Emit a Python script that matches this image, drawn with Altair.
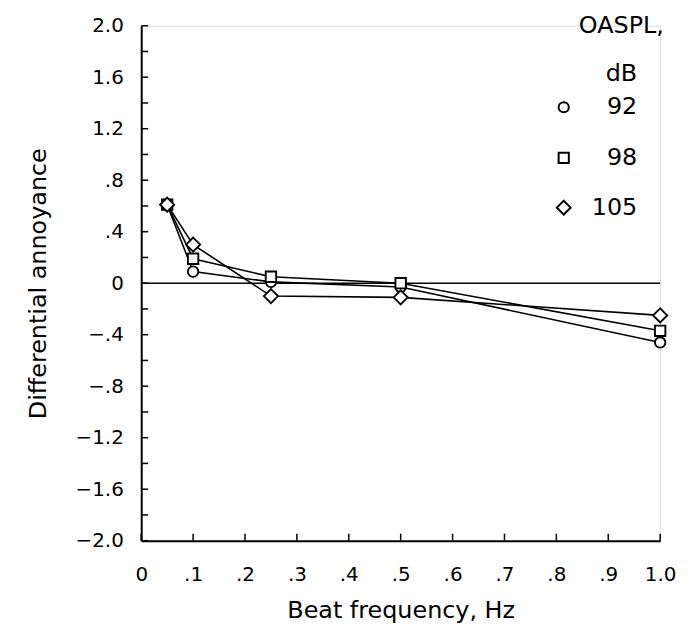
import altair as alt
import pandas as pd

# ---- data ----
freq = [0.05, 0.1, 0.25, 0.5, 1.0]
oaspl_92 = [0.61, 0.09, 0.01, -0.03, -0.46]
oaspl_98 = [0.61, 0.19, 0.05, 0.00, -0.37]
oaspl_105 = [0.61, 0.30, -0.10, -0.11, -0.25]
series = ["92", "98", "105"]
shapes = ["circle", "square", "M-1.35,0L0,-1.35L1.35,0L0,1.35Z"]
legend_title = ["OASPL,", "dB"]

y_label_values = [-2.0, -1.6, -1.2, -0.8, -0.4, 0.0, 0.4, 0.8, 1.2, 1.6, 2.0]
y_tick_values = [-2.0, -1.8, -1.6, -1.4, -1.2, -1.0, -0.8, -0.6, -0.4, -0.2, 0.0,
                 0.2, 0.4, 0.6, 0.8, 1.0, 1.2, 1.4, 1.6, 1.8, 2.0]
x_tick_values = [0.0, 0.1, 0.2, 0.3, 0.4, 0.5, 0.6, 0.7, 0.8, 0.9, 1.0]

rows = []
for name, vals in zip(series, [oaspl_92, oaspl_98, oaspl_105]):
    for f, v in zip(freq, vals):
        rows.append({"freq": f, "value": v, "series": name})
df = pd.DataFrame(rows)
df_yt = pd.DataFrame({"v": y_tick_values})
df_xt = pd.DataFrame({"v": x_tick_values})

FONT = "DejaVu Sans"
W, H = 522, 518

xscale = alt.Scale(domain=[0, 1.0], nice=False, zero=False)
yscale = alt.Scale(domain=[-2.0, 2.0], nice=False)
shape_scale = alt.Scale(domain=series, range=shapes)

x_axis = alt.Axis(
    values=x_tick_values, title="Beat frequency, Hz", grid=False, ticks=False,
    labelExpr="datum.value == 0 ? '0' : datum.value >= 1 ? '1.0' : replace(format(datum.value, '.1f'), '0.', '.')",
    labelFontSize=20, titleFontSize=24, titleFontWeight="normal", labelPadding=24,
    titleY=77, titleBaseline="alphabetic",
    domainColor="black", domainWidth=2, labelColor="black",
    titleColor="black", labelFont=FONT, titleFont=FONT, labelFlush=False,
)
y_axis = alt.Axis(
    values=y_label_values, title="Differential annoyance", grid=False, ticks=False,
    labelExpr="datum.value == 0 ? '0' : abs(datum.value) < 1 ? replace(format(datum.value, '.1f'), '0.', '.') : format(datum.value, '.1f')",
    labelFontSize=20, titleFontSize=24, titleFontWeight="normal", labelPadding=18,
    titleX=-96, titleY=H / 2, titleBaseline="alphabetic", titleAngle=270,
    domainColor="black", domainWidth=2, labelColor="black",
    titleColor="black", labelFont=FONT, titleFont=FONT, labelFlush=False,
)

base = alt.Chart(df)

zero = alt.Chart(pd.DataFrame({"a": [0]})).mark_rule(color="black", strokeWidth=1.5).encode(
    x=alt.datum(0.0, scale=xscale), x2=alt.datum(1.0), y=alt.datum(0.0, scale=yscale)
)

yticks = alt.Chart(df_yt).mark_rule(color="black", strokeWidth=1.5).encode(
    y=alt.Y("v:Q", scale=yscale, axis=y_axis), x=alt.value(0), x2=alt.value(7)
)
xticks = alt.Chart(df_xt).mark_rule(color="black", strokeWidth=1.5).encode(
    x=alt.X("v:Q", scale=xscale, axis=x_axis), y=alt.value(H), y2=alt.value(H - 7)
)

lines = base.mark_line(color="black", strokeWidth=1.6).encode(
    x=alt.X("freq:Q", scale=xscale, axis=x_axis),
    y=alt.Y("value:Q", scale=yscale, axis=y_axis),
    detail="series:N",
)

points = base.mark_point(filled=False, color="black", fill="white", fillOpacity=1,
                         strokeWidth=1.9, opacity=1, size=110).encode(
    x=alt.X("freq:Q", scale=xscale, axis=x_axis),
    y=alt.Y("value:Q", scale=yscale, axis=y_axis),
    shape=alt.Shape("series:N", scale=shape_scale, legend=None),
)

# ---- legend drawn as marks (title, symbols, labels) ----
leg_title = alt.Chart(pd.DataFrame({"a": [0]})).mark_text(
    text=legend_title, fontSize=24, font=FONT, align="center", baseline="top",
    lineHeight=49, color="black"
).encode(x=alt.value(483), y=alt.value(-12))

row_y = [82, 133, 183]
legend_layers = []
for s, ry in zip(series, row_y):
    d = pd.DataFrame({"series": [s]})
    legend_layers.append(
        alt.Chart(d).mark_point(filled=False, color="black", fill="white", fillOpacity=1,
                                strokeWidth=2, size=105).encode(
            shape=alt.Shape("series:N", scale=shape_scale, legend=None),
            x=alt.value(425), y=alt.value(ry),
        )
    )
    legend_layers.append(
        alt.Chart(d).mark_text(fontSize=24, font=FONT, align="right", baseline="middle",
                               color="black").encode(
            text="series:N", x=alt.value(499), y=alt.value(ry),
        )
    )

chart = alt.layer(zero, yticks, xticks, lines, points, leg_title, *legend_layers).properties(
    width=W, height=H,
    padding={"left": 134, "top": 16, "right": 25, "bottom": 84},
    autosize=alt.AutoSizeParams(type="none"),
).configure_view(stroke=None).configure(background="white")

chart.save("out.html", embed_options={"renderer": "svg", "actions": False})
